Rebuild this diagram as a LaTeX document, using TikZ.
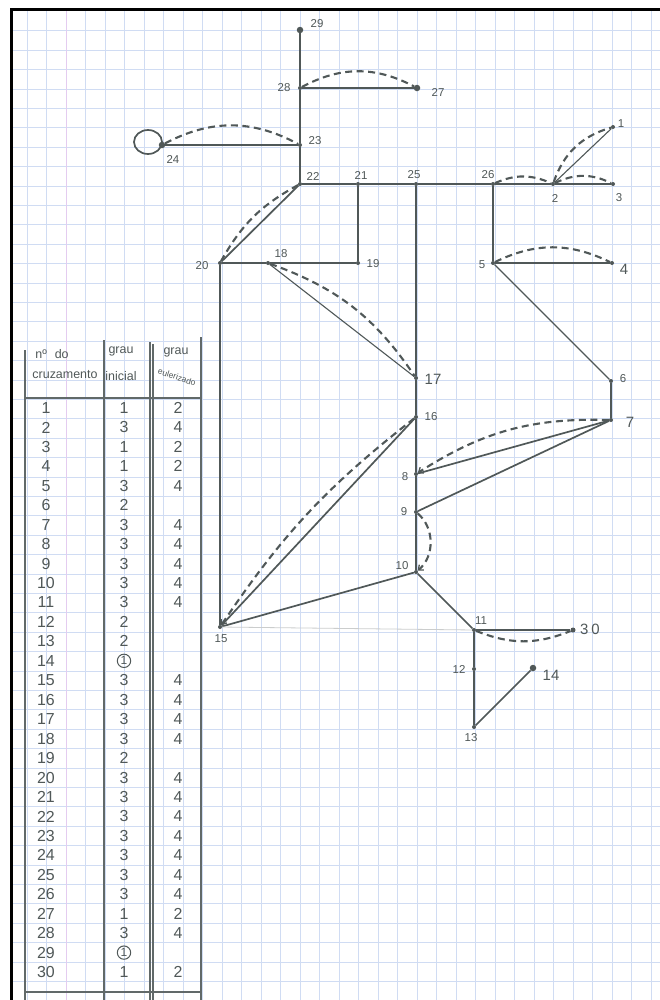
\documentclass[tikz,border=0pt]{standalone}
\usepackage{fontspec}
\setmainfont{Liberation Sans}
\usetikzlibrary{arrows.meta}
\definecolor{pencil}{RGB}{80,88,88}
\definecolor{gridblue}{RGB}{208,220,243}
\definecolor{gridpink}{RGB}{228,204,240}
\begin{document}
\begin{tikzpicture}[x=1bp,y=-1bp,
  pt/.style={circle,fill=pencil,inner sep=0pt,minimum size=4bp},
  bigpt/.style={pt,minimum size=6.5bp},
  lbl/.style={text=pencil,font=\fontsize{11.5}{11.5}\selectfont,inner sep=0pt},
  biglbl/.style={lbl,font=\fontsize{15}{15}\selectfont},
  edge/.style={draw=pencil,line width=1.7bp},
  thinedge/.style={draw=pencil,line width=1.1bp},
  faint/.style={draw=pencil!30,line width=0.8bp},
  twice/.style={draw=pencil,line width=2.1bp,dash pattern=on 7bp off 4.5bp},
  tip/.style={-{Straight Barb[length=4bp,width=7bp,line width=1.3bp]}},
  tab/.style={text=pencil,font=\fontsize{16}{16}\selectfont,inner sep=0pt},
  head/.style={text=pencil,font=\fontsize{12.5}{12.5}\selectfont,inner sep=0pt},
  tabline/.style={draw=pencil!90,line width=1.3bp},
  circ/.style={tab,draw=pencil,circle,line width=1bp,inner sep=1pt,font=\fontsize{12}{12}\selectfont},
]
\useasboundingbox (0,0) rectangle (660,1000);
\fill[white] (0,0) rectangle (660,1000);
% squared paper
\foreach \k in {0,...,32} \draw[gridblue,line width=0.8bp] ({27+19.5*\k},9) -- ({27+19.5*\k},1000);
\foreach \k in {0,...,49} \draw[gridblue,line width=0.8bp] (11,{30.7+19.4*\k}) -- (660,{30.7+19.4*\k});
\draw[gridpink,line width=0.9bp] (66,9) -- (66,1000);
% frame
\draw[black,line width=3bp] (11,1000) -- (11,9) -- (660,9);

% ---------- graph nodes ----------
\node[pt] (n1) at (613,127) {};
\node[pt] (n2) at (553,184) {};
\node[pt] (n3) at (613,184) {};
\node[pt] (n4) at (612,263) {};
\node[pt] (n5) at (493,263) {};
\node[pt] (n6) at (611,381) {};
\node[pt] (n7) at (611,420) {};
\node[pt] (n8) at (416,474) {};
\node[pt] (n9) at (416,512) {};
\node[pt] (n10) at (416,572) {};
\node[pt] (n11) at (474,630) {};
\node[pt] (n12) at (474,669) {};
\node[pt] (n13) at (474,727) {};
\node[bigpt] (n14) at (533,668) {};
\node[pt] (n15) at (220,627) {};
\node[pt] (n16) at (416,417) {};
\node[pt] (n17) at (416,378) {};
\node[pt] (n18) at (268,263) {};
\node[pt] (n19) at (358,263) {};
\node[pt] (n20) at (220,263) {};
\node[pt] (n21) at (358,184) {};
\node[pt] (n22) at (300,184) {};
\node[pt] (n23) at (300,145) {};
\node[bigpt] (n24) at (162,145) {};
\node[pt] (n25) at (416,184) {};
\node[pt] (n26) at (493,184) {};
\node[bigpt] (n27) at (417,88) {};
\node[pt] (n28) at (300,88) {};
\node[bigpt] (n29) at (300,30) {};
\node[pt,minimum size=5bp] (n30) at (573,630) {};

% ---------- labels ----------
\node[lbl] (l1) at (621,124) {1};
\node[lbl] (l2) at (555,198) {2};
\node[lbl] (l3) at (619,198) {3};
\node[biglbl] (l4) at (624,269) {4};
\node[lbl] (l5) at (482,265) {5};
\node[lbl] (l6) at (623,379) {6};
\node[biglbl] (l7) at (630,422) {7};
\node[lbl] (l8) at (405,477) {8};
\node[lbl] (l9) at (404,512) {9};
\node[lbl] (l10) at (402,566) {10};
\node[lbl] (l11) at (481,621) {11};
\node[lbl] (l12) at (459,669) {12};
\node[lbl] (l13) at (471,738) {13};
\node[biglbl] (l14) at (551,675) {14};
\node[lbl] (l15) at (221,639) {15};
\node[lbl] (l16) at (431,417) {16};
\node[biglbl] (l17) at (433,379) {17};
\node[lbl] (l18) at (281,254) {18};
\node[lbl] (l19) at (373,264) {19};
\node[lbl] (l20) at (202,266) {20};
\node[lbl] (l21) at (361,175) {21};
\node[lbl] (l22) at (313,176) {22};
\node[lbl] (l23) at (315,141) {23};
\node[lbl] (l24) at (173,159) {24};
\node[lbl] (l25) at (414,175) {25};
\node[lbl] (l26) at (488,175) {26};
\node[lbl] (l27) at (438,92) {27};
\node[lbl] (l28) at (284,88) {28};
\node[lbl] (l29) at (317,24) {29};
\node[biglbl] (l30) at (590,629) {3\hspace{3bp}0};

% ---------- solid edges ----------
\draw[edge] (n29) -- (n28) -- (n23) -- (n22);
\draw[edge] (n28) -- (n27);
\draw[edge] (n24) -- (n23);
\draw[edge] ([xshift=-14bp,yshift=3bp]n24.center) ellipse [x radius=14, y radius=12];
\draw[edge] (n22) -- (n21) -- (n25) -- (n26) -- (n2) -- (n3);
\draw[thinedge] (n2) -- (n1);
\draw[edge] (n22) -- (n20);
\draw[edge] (n21) -- (n19);
\draw[edge] (n20) -- (n18) -- (n19);
\draw[thinedge] (n18) -- (n17);
\draw[edge] (n25) -- (n17) -- (n16) -- (n8) -- (n9) -- (n10);
\draw[edge] (n26) -- (n5);
\draw[edge] (n5) -- (n4);
\draw[thinedge] (n5) -- (n6);
\draw[edge] (n6) -- (n7);
\draw[edge] (n7) -- (n8);
\draw[edge] (n7) -- (n9);
\draw[edge] (n20) -- (n15);
\draw[edge] (n15) -- (n16);
\draw[edge] (n15) -- (n10);
\draw[faint] (n15) -- (n11);
\draw[edge] (n10) -- (n11);
\draw[edge] (n11) -- (n30);
\draw[edge] (n11) -- (n12) -- (n13);
\draw[edge] (n13) -- (n14);

% ---------- dashed (repeated) edges ----------
\draw[twice] (n28) to[bend left=28] (n27);
\draw[twice] (n24) to[bend left=28] (n23);
\draw[twice] (n22) to[bend right=16] (n20);
\draw[twice] (n18) to[bend left=18] (n17);
\draw[twice] (n26) to[bend left=24] (n2);
\draw[twice] (n2) to[bend left=26] (n3);
\draw[twice] (n2) to[bend left=27] (n1);
\draw[twice] (n5) to[bend left=26] (n4);
\draw[twice,tip] (n7) to[bend right=17] (n8);
\draw[twice,tip] (n16) to[bend right=9] (n15);
\draw[twice,tip] (n9) to[bend left=50] (n10);
\draw[twice] (n11) to[bend right=22] (n30);

% ---------- table ----------
\draw[tabline] (25,350) -- (25,1000);
\draw[tabline] (104,340) -- (104,1000);
\draw[tabline] (150,342) -- (150,1000);
\draw[tabline] (153,344) -- (153,1000);
\draw[tabline] (201,337) -- (201,1000);
\draw[tabline] (25,398) -- (201,398);
\draw[tabline] (25,992) -- (201,992);

\node[head] (h1) at (52,354) {nº\hspace{8bp}do};
\node[head] (h2) at (65,375) {cruzamento};
\node[head] (h3) at (121,351) {grau};
\node[head] (h4) at (121,376) {inicial};
\node[head] (h5) at (176,352) {grau};
\node[head,font=\fontsize{8.5}{8.5}\selectfont,rotate=-18] (h6) at (177,377) {eulerizado};

\foreach \i/\a/\b in {1/1/2,2/3/4,3/1/2,4/1/2,5/3/4,6/2/,7/3/4,8/3/4,9/3/4,10/3/4,
  11/3/4,12/2/,13/2/,15/3/4,16/3/4,17/3/4,18/3/4,19/2/,20/3/4,
  21/3/4,22/3/4,23/3/4,24/3/4,25/3/4,26/3/4,27/1/2,28/3/4,30/1/2}{
  \node[tab] (r\i) at (46,{408+19.45*(\i-1)}) {\i};
  \node[tab] (a\i) at (124,{408+19.45*(\i-1)}) {\a};
  \node[tab] (b\i) at (178,{408+19.45*(\i-1)}) {\b};
}
\node[tab] (r14) at (46,{408+19.45*13}) {14};
\node[circ] (a14) at (124,{408+19.45*13}) {1};
\node[tab] (r29) at (46,{408+19.45*28}) {29};
\node[circ] (a29) at (124,{408+19.45*28}) {1};
\end{tikzpicture}
\end{document}
